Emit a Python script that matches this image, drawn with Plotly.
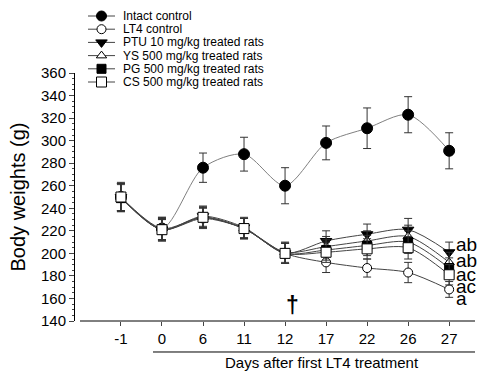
import plotly.graph_objects as go

days = ["-1", "0", "6", "11", "12", "17", "22", "26", "27"]
intact = [250, 222, 276, 288, 260, 298, 311, 323, 291]
intact_err = [12, 10, 13, 15, 16, 15, 18, 16, 16]
lt4 = [250, 221, 231, 222, 200, 192, 187, 183, 168]
lt4_err = [12, 10, 9, 9, 9, 9, 8, 9, 7]
ptu = [250, 221, 233, 223, 200, 211, 217, 221, 201]
ptu_err = [13, 10, 9, 9, 9, 9, 9, 10, 9]
ys = [250, 222, 232, 222, 201, 206, 211, 215, 192]
ys_err = [12, 10, 9, 9, 9, 9, 9, 10, 9]
pg = [249, 221, 232, 222, 200, 203, 207, 210, 187]
pg_err = [12, 9, 9, 9, 9, 9, 9, 10, 9]
cs = [250, 221, 232, 222, 200, 201, 204, 205, 181]
cs_err = [12, 9, 9, 9, 9, 9, 9, 10, 9]
sig_labels = ["ab", "ab", "ac", "ac", "a"]
sig_y = [208, 193.5, 181, 170.5, 160]

xi = list(range(len(days)))
series = [
    ("Intact control", intact, intact_err, "circle", "black", "#808080", 11),
    ("LT4 control", lt4, lt4_err, "circle", "white", "#444444", 9),
    ("PTU 10 mg/kg treated rats", ptu, ptu_err, "triangle-down", "black", "#444444", 10),
    ("YS 500 mg/kg treated rats", ys, ys_err, "triangle-up", "white", "#444444", 9),
    ("PG 500 mg/kg treated rats", pg, pg_err, "square", "black", "#444444", 9),
    ("CS 500 mg/kg treated rats", cs, cs_err, "square", "white", "#444444", 10),
]

fig = go.Figure()
for name, vals, err, sym, mc, lc, ms in series:
    fig.add_trace(go.Scatter(
        x=xi, y=vals, name=name, mode="lines+markers", showlegend=False,
        line=dict(color=lc, width=1, shape="spline", smoothing=0.8),
        marker=dict(symbol=sym, size=ms, color=mc, line=dict(color="black", width=1)),
        error_y=dict(type="data", array=err, color="#333333", thickness=1, width=4),
    ))

# manual compact legend on a separate axis measured in pixels
leg_y0, leg_dy = 16, 13.2
for i, (name, vals, err, sym, mc, lc, ms) in enumerate(series):
    yy = leg_y0 + leg_dy * i
    fig.add_trace(go.Scatter(x=[88, 115], y=[yy, yy], mode="lines", xaxis="x2", yaxis="y2",
                             line=dict(color="#444444", width=1), showlegend=False,
                             hoverinfo="skip"))
    fig.add_trace(go.Scatter(x=[101.5], y=[yy], mode="markers", xaxis="x2", yaxis="y2",
                             marker=dict(symbol=sym, size=min(ms, 10), color=mc,
                                         line=dict(color="black", width=1)),
                             showlegend=False, hoverinfo="skip"))
    fig.add_annotation(x=121, y=yy, xref="x2", yref="y2", text=name, showarrow=False,
                       xanchor="left", font=dict(size=12, color="black"))

for lab, yv in zip(sig_labels, sig_y):
    fig.add_annotation(x=xi[-1], y=yv, xref="x", yref="y", text=lab, showarrow=False,
                       xanchor="left", xshift=5, font=dict(size=19, color="black"))

fig.add_annotation(x=xi[4] + 0.17, y=154, xref="x", yref="y", text="<b>†</b>", showarrow=False,
                   font=dict(size=23, color="black"))

# x axis line and underline
fig.add_shape(type="line", xref="paper", yref="paper", x0=0.0125, x1=1, y0=0, y1=0,
              line=dict(color="black", width=1))
fig.add_shape(type="line", xref="paper", yref="paper", x0=0.195, x1=1, y0=-0.099, y1=-0.099,
              line=dict(color="black", width=1))
fig.add_annotation(xref="paper", yref="paper", x=0.6175, y=-0.133, yanchor="middle",
                   text="Days after first LT4 treatment", showarrow=False,
                   font=dict(size=15, color="black"))

fig.update_layout(
    width=487, height=372,
    margin=dict(l=75, r=12, t=8, b=51, autoexpand=False),
    paper_bgcolor="white", plot_bgcolor="rgba(0,0,0,0)",
    font=dict(family="Liberation Sans, Arial, sans-serif", color="black"),
    showlegend=False,
    xaxis=dict(range=[-1.12, 8.63], tickvals=xi, ticktext=days, showgrid=False,
               zeroline=False, showline=False, ticks="outside", ticklen=4,
               tickfont=dict(size=15), automargin=False),
    yaxis=dict(domain=[0, 0.7923], range=[140, 360], dtick=20, showgrid=False, zeroline=False,
               showline=True, linecolor="black", ticks="outside", ticklen=5,
               tickfont=dict(size=15), automargin=False,
               minor=dict(dtick=5, ticks="outside", ticklen=2, showgrid=False),
               title=dict(text="Body weights (g)", font=dict(size=20), standoff=9)),
    xaxis2=dict(domain=[0, 1], range=[75, 475], visible=False, anchor="y2"),
    yaxis2=dict(domain=[0, 1], range=[321, 8], visible=False, anchor="x2"),
)

fig.write_html("out.html")
